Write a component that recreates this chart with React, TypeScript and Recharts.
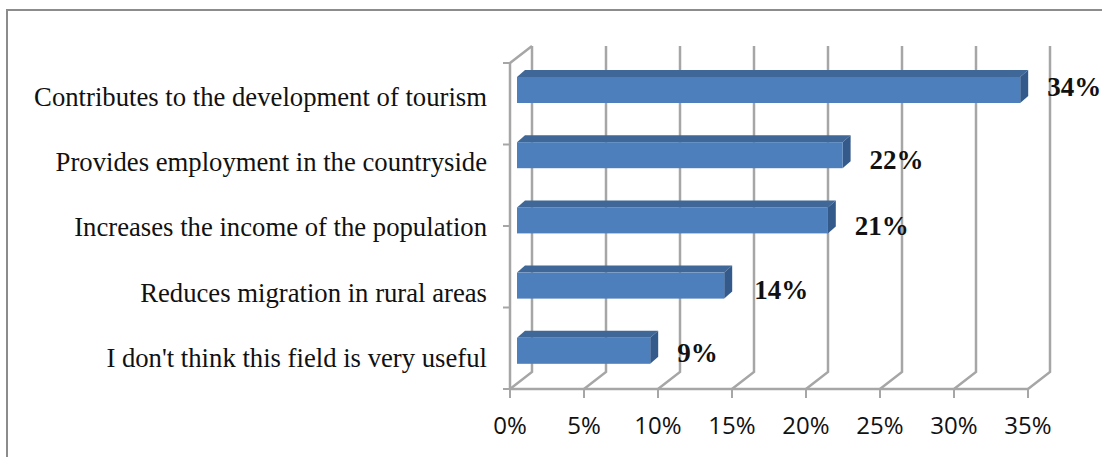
import { Bar, BarChart, CartesianGrid, LabelList, XAxis, YAxis } from 'recharts';

const categories = [
  'Contributes to the development of tourism',
  'Provides employment in the countryside',
  'Increases the income of the population',
  'Reduces migration in rural areas',
  "I don't think this field is very useful",
];
const shares = [34, 22, 21, 14, 9];
const shareTicks = [0, 5, 10, 15, 20, 25, 30, 35];
const bandTicks = [0, 1, 2, 3, 4, 5];

const chartData = categories.map((name, i) => ({ name, share: shares[i] }));

const GRID = '#a6a6a6';
const GRID_WIDTH = 2.5;
const TEXT = '#111';

// 3D look: back wall is shifted from the front plane by this much
const WALL_DX = 22;
const WALL_DY = 17;

// the value labels sit a bit unevenly in the original
const labelShiftX = [0, 0, 0, 3, 0];
const labelShiftY = [-9, -1, 0, -2, -4];

const BoxBar = ({ x, y, width, height }: any) => {
  const left = x + 7;
  const right = left + width;
  const top = y - 6;
  const bottom = top + height;
  const dx = 8;
  const dy = 7;
  return (
    <g>
      <polygon
        points={`${left},${top} ${left + dx},${top - dy} ${right + dx},${top - dy} ${right},${top}`}
        fill="#3f6797"
      />
      <polygon
        points={`${right},${top} ${right + dx},${top - dy} ${right + dx},${bottom - dy} ${right},${bottom}`}
        fill="#335a8a"
      />
      <rect x={left} y={top} width={width} height={height} fill="#4c7fbc" />
    </g>
  );
};

const WallLine = ({ x1, y1, y2, index }: any) => (
  <g key={index} fill="none" stroke={GRID} strokeWidth={GRID_WIDTH}>
    <polyline
      points={`${x1},${y2} ${x1 + WALL_DX},${y2 - WALL_DY} ${x1 + WALL_DX},${y1 - WALL_DY}`}
    />
    {index === 0 && <line x1={x1} y1={y1} x2={x1 + WALL_DX} y2={y1 - WALL_DY} />}
  </g>
);

const ShareLabel = ({ x, y, width, height, value, index }: any) => (
  <text
    x={x + width + 34 + labelShiftX[index]}
    y={y + height / 2 + labelShiftY[index]}
    dominantBaseline="central"
    fontFamily="'Liberation Serif', serif"
    fontWeight="bold"
    fontSize={27}
    fill={TEXT}
  >
    {value}%
  </text>
);

export default function App() {
  return (
    <div
      style={{
        position: 'absolute',
        left: 0,
        top: 0,
        width: 1102,
        height: 457,
        background: '#fff',
      }}
    >
      {/* only the top and left edges of the frame are in the picture */}
      <div
        style={{
          position: 'absolute',
          left: 6,
          top: 9,
          width: 1096,
          height: 448,
          borderTop: '2px solid #8c8c8c',
          borderLeft: '2px solid #8c8c8c',
          boxSizing: 'border-box',
        }}
      />
      <BarChart
        width={1102}
        height={457}
        data={chartData}
        layout="vertical"
        margin={{ top: 63, right: 74, bottom: 0, left: 0 }}
        style={{ position: 'absolute', left: 0, top: 0 }}
      >
        <CartesianGrid horizontal={false} vertical={WallLine} yAxisId="bands" />
        <XAxis
          type="number"
          domain={[0, 35]}
          ticks={shareTicks}
          tickFormatter={(v: number) => `${v}%`}
          height={68}
          tickSize={9}
          tickMargin={19}
          interval={0}
          axisLine={{ stroke: GRID, strokeWidth: GRID_WIDTH }}
          tickLine={{ stroke: GRID, strokeWidth: 2 }}
          tick={{ fontFamily: "'Open Sans'", fontSize: 24, fill: TEXT }}
        />
        <YAxis
          yAxisId="bands"
          type="number"
          domain={[0, 5]}
          ticks={bandTicks}
          width={1}
          tick={() => <g />}
          tickSize={7}
          axisLine={{ stroke: GRID, strokeWidth: GRID_WIDTH }}
          tickLine={{ stroke: GRID, strokeWidth: 2 }}
        />
        <YAxis
          yAxisId="names"
          type="category"
          dataKey="name"
          width={509}
          interval={0}
          tickSize={0}
          tickMargin={22}
          axisLine={false}
          tickLine={false}
          tick={{ fontFamily: "'Liberation Serif', serif", fontSize: 26.7, fill: TEXT, dy: 1 }}
        />
        <Bar
          yAxisId="names"
          dataKey="share"
          barSize={26}
          shape={BoxBar}
          isAnimationActive={false}
        >
          <LabelList dataKey="share" content={ShareLabel} />
        </Bar>
      </BarChart>
    </div>
  );
}
